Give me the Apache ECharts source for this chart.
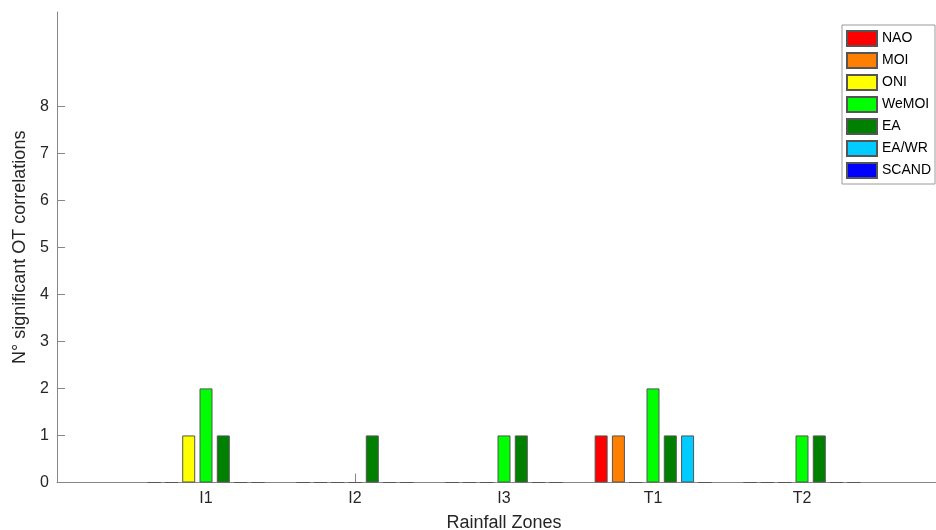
<!DOCTYPE html>
<html>
<head>
<meta charset="utf-8">
<script src="https://cdn.jsdelivr.net/npm/echarts@6/dist/echarts.min.js"></script>
<style>
  html, body { margin: 0; padding: 0; background: #fff; }
  #chart { width: 936px; height: 530px; }
</style>
</head>
<body>
<div id="chart"></div>
<script>
// blank slots at both ends give the 0..6 x-range of the original axes
let zones = ["", "I1", "I2", "I3", "T1", "T2", ""];
let yTicks = [0, 1, 2, 3, 4, 5, 6, 7, 8];

let NAO = [null, 0, 0, 0, 1, 0, null];
let MOI = [null, 0, 0, 0, 1, 0, null];
let ONI = [null, 1, 0, 0, 0, 0, null];
let WeMOI = [null, 2, 0, 1, 2, 1, null];
let EA = [null, 1, 1, 1, 1, 1, null];
let EAWR = [null, 0, 0, 0, 1, 0, null];
let SCAND = [null, 0, 0, 0, 0, 0, null];

let names = ["NAO", "MOI", "ONI", "WeMOI", "EA", "EA/WR", "SCAND"];
let values = [NAO, MOI, ONI, WeMOI, EA, EAWR, SCAND];
let colors = ["#ff0000", "#ff8000", "#ffff00", "#00ff00", "#008000", "#00ccff", "#0000ff"];

let font = "Liberation Sans, Arial, sans-serif";
let axisGrey = "#868686";
let textDark = "#262626";

let chart = echarts.init(document.getElementById("chart"));

let series = names.map(function (n, i) {
  return {
    name: n,
    type: "bar",
    data: values[i],
    barWidth: 13,
    barGap: "33%",
    itemStyle: {
      color: colors[i],
      borderColor: "#555555",
      borderWidth: 1,
    },
  };
});

chart.setOption({
  animation: false,
  backgroundColor: "#ffffff",
  grid: {
    left: 57,
    top: 12,
    width: 894,
    height: 470.5,
    outerBoundsMode: "none",
    containLabel: false,
  },
  legend: {
    data: names,
    orient: "vertical",
    left: 842,
    top: 25,
    padding: [5, 4, 5, 4],
    icon: "rect",
    itemWidth: 30,
    itemHeight: 15,
    itemGap: 5,
    borderColor: "#9a9a9a",
    borderWidth: 1,
    backgroundColor: "#ffffff",
    textStyle: {
      color: "#000000",
      fontSize: 14,
      fontFamily: font,
    },
  },
  xAxis: {
    type: "category",
    data: zones,
    boundaryGap: false,
    name: "Rainfall Zones",
    nameLocation: "middle",
    nameGap: 32,
    nameTextStyle: {
      color: textDark,
      fontSize: 18,
      fontFamily: font,
    },
    axisLine: { lineStyle: { color: axisGrey, width: 1 } },
    axisTick: {
      inside: true,
      length: 9,
      lineStyle: { color: axisGrey },
      interval: function (idx, val) {
        return val !== "";
      },
    },
    axisLabel: {
      interval: 0,
      margin: 8,
      color: textDark,
      fontSize: 16,
      fontFamily: font,
    },
    splitLine: { show: false },
  },
  yAxis: {
    type: "value",
    min: 0,
    max: 10,
    interval: 1,
    name: "N° significant OT correlations",
    nameLocation: "middle",
    nameGap: 28,
    nameTextStyle: {
      color: textDark,
      fontSize: 18,
      fontFamily: font,
    },
    axisLine: { show: true, lineStyle: { color: axisGrey, width: 1 } },
    axisTick: {
      show: true,
      inside: true,
      length: 8,
      customValues: yTicks,
      lineStyle: { color: axisGrey },
    },
    axisLabel: {
      customValues: yTicks,
      margin: 8,
      color: textDark,
      fontSize: 16,
      fontFamily: font,
      formatter: function (v) {
        return v > 8 ? "" : String(v);
      },
    },
    splitLine: { show: false },
  },
  tooltip: { trigger: "axis" },
  series: series,
});
</script>
</body>
</html>
